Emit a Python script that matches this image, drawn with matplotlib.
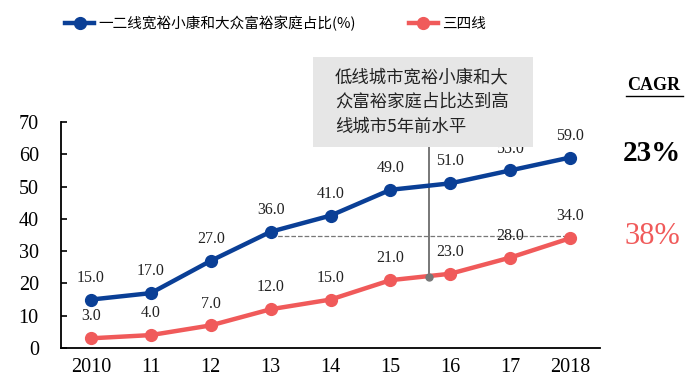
import matplotlib.pyplot as plt
from matplotlib.patches import Rectangle
from matplotlib.lines import Line2D

# data
years = ['2010', '11', '12', '13', '14', '15', '16', '17', '2018']
tier12 = [15.0, 17.0, 27.0, 36.0, 41.0, 49.0, 51.0, 55.0, 59.0]
tier34 = [3.0, 4.0, 7.0, 12.0, 15.0, 21.0, 23.0, 28.0, 34.0]
label12 = '一二线宽裕小康和大众富裕家庭占比(%)'
label34 = '三四线'
note = '低线城市宽裕小康和大\n众富裕家庭占比达到高\n线城市5年前水平'
cagr12 = '23%'
cagr34 = '38%'

blue = '#0a3f96'
red = '#f05a5a'
cjk = ['Noto Sans CJK SC', 'DejaVu Sans']
serif = 'Liberation Serif'

fig = plt.figure(figsize=(6.99, 3.86), dpi=100)
ax = fig.add_axes([61/699, 1-348/386, (600-61)/699, (348-122)/386])

x = list(range(len(years)))
ax.plot(x, tier12, color=blue, lw=3.2, marker='o', ms=8.5, zorder=3)
ax.plot(x, tier34, color=red, lw=3.2, marker='o', ms=8.5, zorder=3)

for i, v in enumerate(tier12):
    ax.annotate(f'{v:.1f}', (i, v), xytext=(0, 10), textcoords='offset points',
                ha='center', va='bottom', fontsize=11.5, family=serif, color='#222222')
for i, v in enumerate(tier34):
    ax.annotate(f'{v:.1f}', (i, v), xytext=(0, 10), textcoords='offset points',
                ha='center', va='bottom', fontsize=11.5, family=serif, color='#222222')

# dashed reference from 2013 level to 2018
ax.plot([3, 8], [tier34[-1] + 0.8, tier34[-1] + 0.8], ls='--', color='#777777', lw=0.9, zorder=2)

# pointer line from box
ax.plot([5.65, 5.65], [22, 62.5], color='#777777', lw=1.4, clip_on=False, zorder=2)
ax.plot([5.65], [22], 'o', color='#777777', ms=5, zorder=4)

ax.set_xlim(-0.5, 8.5)
ax.set_ylim(0, 70)
ax.set_yticks(range(0, 71, 10))
ax.set_xticks(x)
ax.set_xticklabels(years)
for s in ['top', 'right']:
    ax.spines[s].set_visible(False)
ax.spines['left'].set_linewidth(1.3)
ax.spines['bottom'].set_linewidth(1.3)
ax.tick_params(axis='y', direction='in', length=4, width=1.2, labelsize=14.5, pad=16)
ax.tick_params(axis='x', length=0, labelsize=14.5, pad=7)
for t in ax.get_xticklabels() + ax.get_yticklabels():
    t.set_family(serif)

# annotation box
fig.patches.append(Rectangle((313/699, 1-147/386), 220/699, 90/386, transform=fig.transFigure,
                             facecolor='#e6e6e6', edgecolor='none', zorder=5))
fig.text(335/699, 1-102/386, note, ha='left', va='center', fontsize=12.5,
         family=cjk, linespacing=1.5, color='#222222', zorder=6)

# legend
h1 = Line2D([], [], color=blue, lw=3.2, marker='o', ms=8.5)
h2 = Line2D([], [], color=red, lw=3.2, marker='o', ms=8.5)
fig.legend([h1, h2], [label12, label34], loc='center left', bbox_to_anchor=(52/699, 1-23/386),
           ncol=2, frameon=False, handlelength=2.0, handletextpad=0.3, columnspacing=3.6,
           prop={'family': cjk, 'size': 10.5})

# CAGR
fig.text(654/699, 1-85/386, 'CAGR', ha='center', va='center', fontsize=13, family=serif,
         weight='bold')
fig.add_artist(Line2D([626/699, 683/699], [1-96/386, 1-96/386], color='black', lw=1))
fig.text(652/699, 1-153/386, cagr12, ha='center', va='center', fontsize=21, family=serif,
         weight='bold', color='black')
fig.text(652/699, 1-237/386, cagr34, ha='center', va='center', fontsize=22, family=serif,
         color=red)

fig.savefig('out.png', dpi=100)
